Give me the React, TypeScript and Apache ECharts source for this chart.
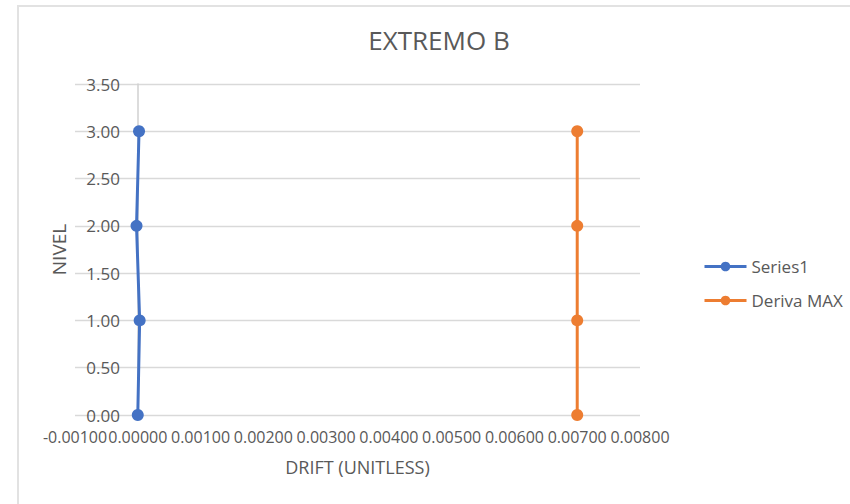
import React, { useEffect, useRef } from "react";
import * as echarts from "echarts";

const levels = [0, 1, 2, 3];
const series1Drift = [0.0, 0.00003, -0.00002, 0.00002];
const derivaMax = [0.007, 0.007, 0.007, 0.007];
const seriesNames = ["Series1", "Deriva MAX"];
const title = "EXTREMO B";
const xName = "DRIFT (UNITLESS)";
const yName = "NIVEL";

const FONT = "'Open Sans', sans-serif";
const TXT = "#595959";

export default function App() {
  const ref = useRef<HTMLDivElement>(null);
  useEffect(() => {
    if (!ref.current) return;
    const chart = echarts.init(ref.current, undefined, { renderer: "svg" });
    const mk = (xs: number[]) => xs.map((x, i) => [x, levels[i]]);
    chart.setOption({
      animation: false,
      backgroundColor: "#ffffff",
      title: {
        text: title,
        left: 434,
        textAlign: "center",
        top: 22,
        textStyle: { fontFamily: FONT, fontSize: 26, fontWeight: "normal", color: TXT },
      },
      graphic: [
        {
          type: "rect",
          shape: { x: 18, y: 6, width: 900, height: 600 },
          style: { fill: "none", stroke: "#e2e2e2", lineWidth: 2 },
          silent: true,
        },
      ],
      legend: {
        orient: "vertical",
        left: 703,
        top: 258,
        padding: 0,
        itemWidth: 42,
        itemHeight: 12,
        itemGap: 17,
        lineStyle: { width: 3 },
        textStyle: { fontFamily: FONT, fontSize: 17, color: TXT },
        data: seriesNames,
      },
      grid: {
        left: 75,
        right: 210,
        top: 84,
        bottom: 89,
        containLabel: false,
        outerBoundsMode: "none",
      },
      xAxis: {
        type: "value",
        min: -0.001,
        max: 0.008,
        interval: 0.001,
        name: xName,
        nameLocation: "middle",
        nameGap: 43,
        nameTextStyle: { fontFamily: FONT, fontSize: 18, color: TXT },
        axisLine: { show: false },
        axisTick: { show: false },
        splitLine: { show: false },
        axisLabel: {
          fontFamily: FONT,
          fontSize: 16,
          color: TXT,
          margin: 14,
          hideOverlap: false,
          formatter: (v: number) => v.toFixed(5),
        },
      },
      yAxis: {
        type: "value",
        min: 0,
        max: 3.5,
        interval: 0.5,
        name: yName,
        nameLocation: "middle",
        nameGap: 7,
        nameRotate: 90,
        nameTextStyle: { fontFamily: FONT, fontSize: 19, color: TXT },
        axisLine: { show: true, onZero: true, lineStyle: { color: "#d0d0d0", width: 1.5 } },
        axisTick: { show: false },
        splitLine: { show: true, lineStyle: { color: "#d9d9d9", width: 1.3 } },
        axisLabel: {
          fontFamily: FONT,
          fontSize: 17,
          color: TXT,
          margin: -45,
          formatter: (v: number) => v.toFixed(2),
        },
      },
      series: [
        {
          name: seriesNames[0],
          type: "line",
          data: mk(series1Drift),
          symbol: "circle",
          symbolSize: 12,
          lineStyle: { width: 3, color: "#4472C4" },
          itemStyle: { color: "#4472C4" },
        },
        {
          name: seriesNames[1],
          type: "line",
          data: mk(derivaMax),
          symbol: "circle",
          symbolSize: 12,
          lineStyle: { width: 3, color: "#ED7D31" },
          itemStyle: { color: "#ED7D31" },
        },
      ],
    });
    return () => chart.dispose();
  }, []);
  return (
    <div
      ref={ref}
      style={{ position: "fixed", left: 0, top: 0, width: 850, height: 504 }}
    />
  );
}
